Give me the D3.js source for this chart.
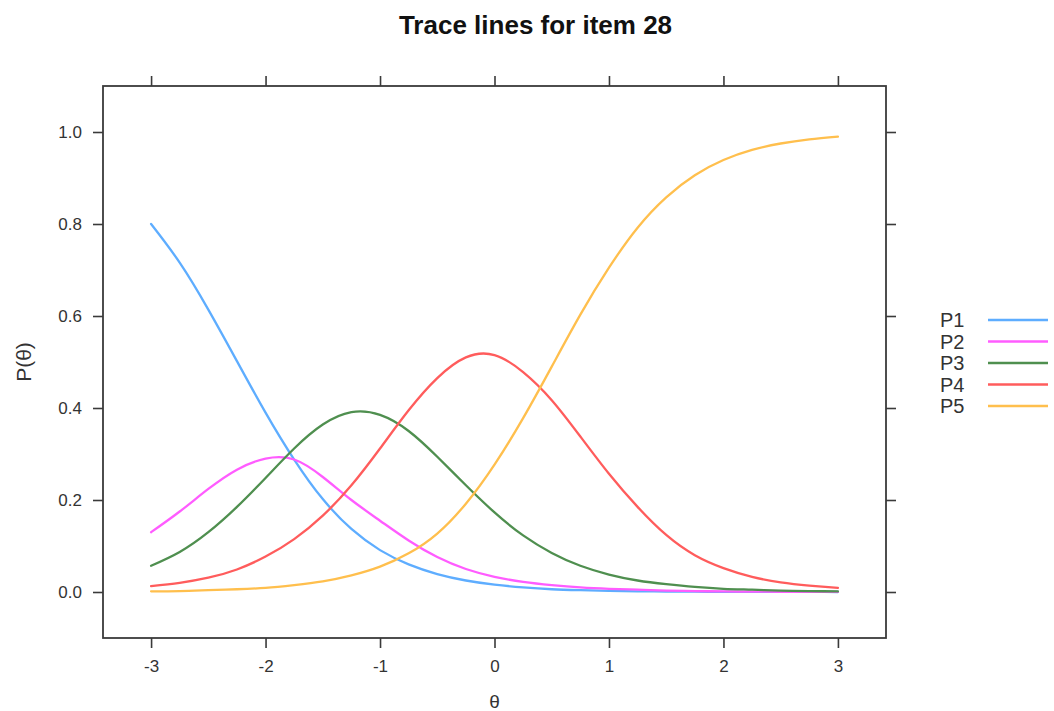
<!DOCTYPE html>
<html>
<head>
<meta charset="utf-8">
<script src="https://cdn.jsdelivr.net/npm/d3@7"></script>
<style>
  body { margin: 0; background: #fff; }
  svg { display: block; font-family: "Liberation Sans", Arial, Helvetica, sans-serif; }
</style>
</head>
<body>
<svg id="chart" width="1054" height="711"></svg>
<script>
const theta = [-3, -2.75, -2.5, -2.25, -2, -1.75, -1.5, -1.25, -1, -0.75, -0.5, -0.25, 0,
               0.25, 0.5, 0.75, 1, 1.25, 1.5, 1.75, 2, 2.25, 2.5, 2.75, 3];
const P1 = [0.800, 0.716, 0.614, 0.502, 0.390, 0.288, 0.202, 0.137, 0.091, 0.060, 0.039, 0.025, 0.016,
            0.010, 0.006, 0.004, 0.0025, 0.0015, 0.001, 0.0006, 0.0004, 0.0002, 0.0001, 0.0001, 0.0000];
const P2 = [0.130, 0.175, 0.224, 0.266, 0.290, 0.288, 0.250, 0.200, 0.155, 0.112, 0.076, 0.050, 0.033,
            0.022, 0.015, 0.010, 0.007, 0.005, 0.003, 0.002, 0.0013, 0.0008, 0.0005, 0.0003, 0.0002];
const P3 = [0.057, 0.087, 0.130, 0.185, 0.248, 0.312, 0.364, 0.391, 0.385, 0.350, 0.294, 0.232, 0.173,
            0.123, 0.085, 0.057, 0.038, 0.025, 0.017, 0.011, 0.007, 0.005, 0.003, 0.002, 0.0013];
const P4 = [0.013, 0.020, 0.031, 0.049, 0.077, 0.115, 0.166, 0.232, 0.312, 0.395, 0.465, 0.510, 0.515,
            0.478, 0.417, 0.338, 0.257, 0.185, 0.124, 0.080, 0.052, 0.033, 0.021, 0.014, 0.009];
const P5 = [0.0014, 0.002, 0.004, 0.006, 0.009, 0.015, 0.023, 0.036, 0.055, 0.084, 0.127, 0.192, 0.277,
            0.378, 0.490, 0.603, 0.705, 0.792, 0.858, 0.906, 0.939, 0.961, 0.975, 0.984, 0.990];
const seriesNames = ["P1", "P2", "P3", "P4", "P5"];
const seriesColors = ["#5eadff", "#ff5cff", "#4f8f4f", "#ff5c5c", "#ffbf4d"];
const xTicks = [-3, -2, -1, 0, 1, 2, 3];
const yTicks = [0, 0.2, 0.4, 0.6, 0.8, 1.0];
const titleText = "Trace lines for item 28";
const xLabel = "\u03b8";
const yLabel = "P(\u03b8)";

const series = [P1, P2, P3, P4, P5];
const svg = d3.select("#chart");
const L = 103, R = 886, T = 86, B = 638;
const x = d3.scaleLinear().domain([-3.42, 3.42]).range([L, R]);
const y = d3.scaleLinear().domain([-0.1, 1.1]).range([B, T]);
const axisColor = "#3a3a3a";
const textColor = "#333";

// title
svg.append("text").attr("x", 535.5).attr("y", 34).attr("text-anchor", "middle")
  .attr("font-size", 26).attr("font-weight", "bold").attr("fill", "#111").text(titleText);

// axes
function styleAxis(g) {
  g.select(".domain").remove();
  g.selectAll(".tick line").attr("stroke", axisColor).attr("stroke-width", 1.6);
  g.selectAll(".tick text").attr("fill", textColor).attr("font-size", 17)
    .attr("font-family", "'Liberation Sans', Arial, sans-serif");
}
const hyphenInt = d => (d < 0 ? "-" : "") + Math.abs(d);
svg.append("g").attr("transform", `translate(0,${B})`)
  .call(d3.axisBottom(x).tickValues(xTicks).tickSize(10).tickSizeOuter(0).tickPadding(12)
    .tickFormat(hyphenInt))
  .call(styleAxis);
svg.append("g").attr("transform", `translate(0,${T})`)
  .call(d3.axisTop(x).tickValues(xTicks).tickSize(10).tickSizeOuter(0).tickFormat(""))
  .call(styleAxis);
svg.append("g").attr("transform", `translate(${L},0)`)
  .call(d3.axisLeft(y).tickValues(yTicks).tickSize(10).tickSizeOuter(0).tickPadding(11)
    .tickFormat(d3.format(".1f")))
  .call(styleAxis);
svg.append("g").attr("transform", `translate(${R},0)`)
  .call(d3.axisRight(y).tickValues(yTicks).tickSize(10).tickSizeOuter(0).tickFormat(""))
  .call(styleAxis);

// frame
svg.append("rect").attr("x", L).attr("y", T).attr("width", R - L).attr("height", B - T)
  .attr("fill", "none").attr("stroke", axisColor).attr("stroke-width", 1.8);

// curves
const line = d3.line().x(d => x(d[0])).y(d => y(d[1])).curve(d3.curveNatural);
svg.append("clipPath").attr("id", "clip").append("rect")
  .attr("x", L).attr("y", T).attr("width", R - L).attr("height", B - T);
const plotG = svg.append("g").attr("clip-path", "url(#clip)");
series.forEach((s, i) => {
  plotG.append("path").datum(theta.map((t, j) => [t, s[j]]))
    .attr("d", line).attr("fill", "none").attr("stroke", seriesColors[i])
    .attr("stroke-width", 2.3).attr("stroke-linejoin", "round").attr("stroke-linecap", "round");
});

// axis labels
svg.append("text").attr("x", x(0)).attr("y", 708).attr("text-anchor", "middle")
  .attr("font-size", 19).attr("fill", textColor).text(xLabel);
svg.append("text").attr("transform", `translate(31,${(T + B) / 2}) rotate(-90)`)
  .attr("text-anchor", "middle").attr("font-size", 21).attr("fill", textColor).text(yLabel);

// legend
const legY = d3.scalePoint().domain(seriesNames).range([320, 406]);
const leg = svg.append("g");
seriesNames.forEach((n, i) => {
  leg.append("text").attr("x", 940).attr("y", legY(n) + 7).attr("font-size", 20)
    .attr("fill", textColor).text(n);
  leg.append("line").attr("x1", 988).attr("x2", 1048).attr("y1", legY(n)).attr("y2", legY(n))
    .attr("stroke", seriesColors[i]).attr("stroke-width", 2.5);
});
</script>
</body>
</html>
